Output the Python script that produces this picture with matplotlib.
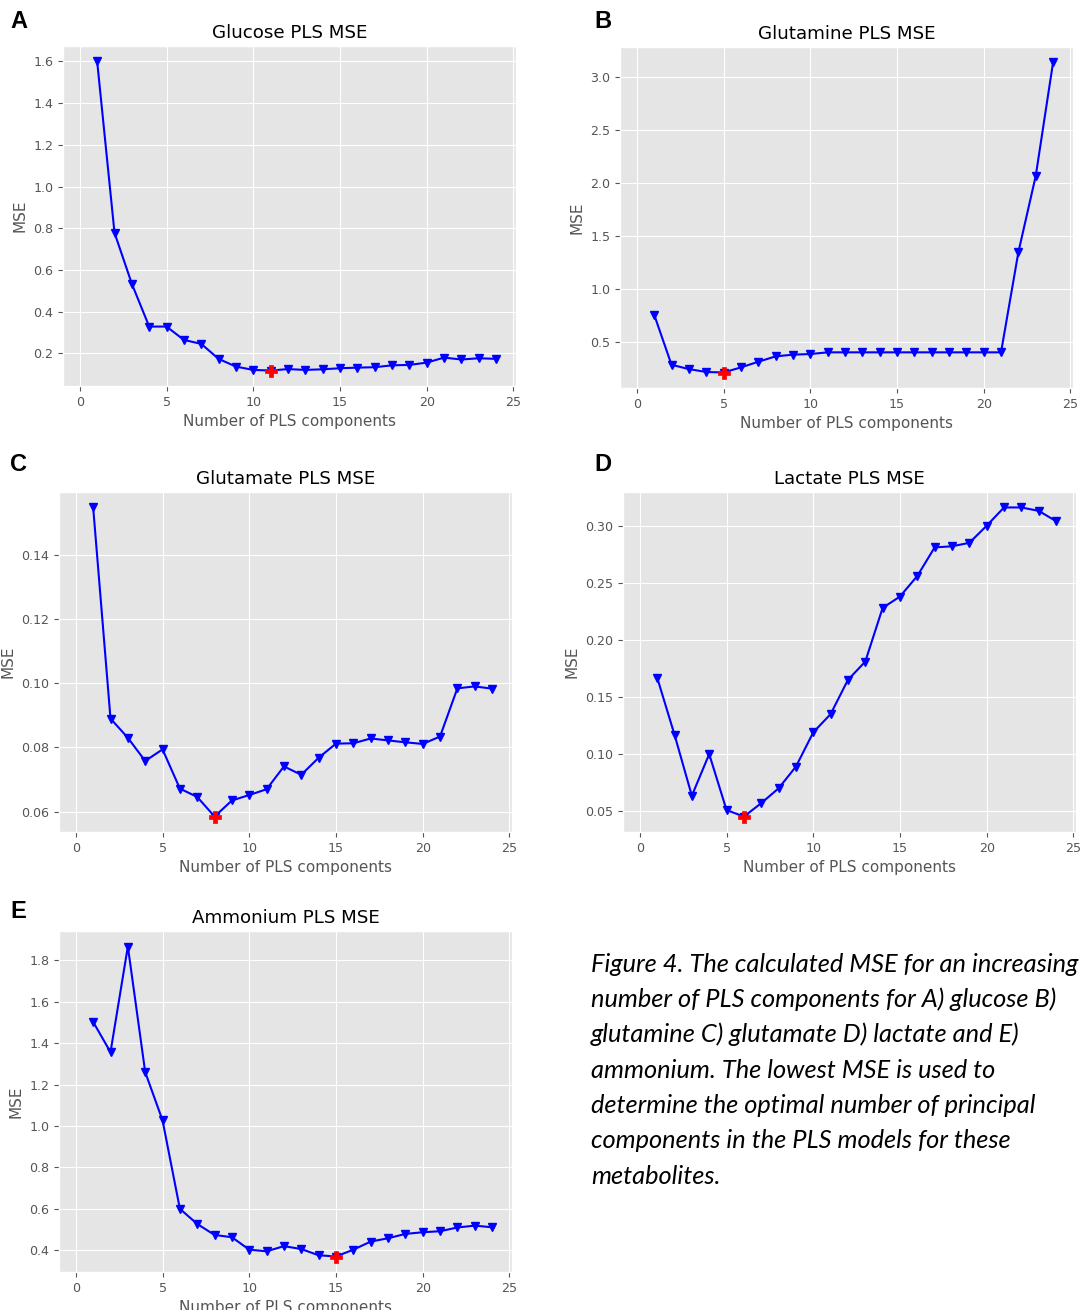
import matplotlib
matplotlib.use("Agg")
import matplotlib.pyplot as plt

# ---------------- data ----------------
components = list(range(1, 25))

glucose_mse = [1.600, 0.778, 0.533, 0.328, 0.328, 0.264, 0.245, 0.173, 0.136, 0.120,
               0.117, 0.124, 0.120, 0.123, 0.128, 0.131, 0.133, 0.142, 0.144, 0.155,
               0.179, 0.170, 0.176, 0.173]
glutamine_mse = [0.760, 0.288, 0.247, 0.220, 0.215, 0.263, 0.316, 0.367, 0.383, 0.389,
                 0.405, 0.405, 0.405, 0.405, 0.405, 0.405, 0.405, 0.405, 0.405, 0.405,
                 0.405, 1.348, 2.066, 3.136]
glutamate_mse = [0.1547, 0.0890, 0.0830, 0.0758, 0.0794, 0.0672, 0.0646, 0.0585, 0.0635, 0.0652,
                 0.0670, 0.0741, 0.0715, 0.0768, 0.0812, 0.0813, 0.0828, 0.0822, 0.0816, 0.0811,
                 0.0834, 0.0984, 0.0990, 0.0983]
lactate_mse = [0.167, 0.117, 0.0635, 0.100, 0.051, 0.0453, 0.057, 0.070, 0.089, 0.119,
               0.135, 0.165, 0.181, 0.228, 0.238, 0.256, 0.281, 0.282, 0.285, 0.300,
               0.316, 0.316, 0.313, 0.304]
ammonium_mse = [1.502, 1.356, 1.866, 1.260, 1.027, 0.600, 0.527, 0.474, 0.463, 0.403,
                0.395, 0.420, 0.406, 0.376, 0.370, 0.403, 0.442, 0.458, 0.479, 0.487,
                0.492, 0.510, 0.519, 0.511]

titles = ["Glucose PLS MSE", "Glutamine PLS MSE", "Glutamate PLS MSE",
          "Lactate PLS MSE", "Ammonium PLS MSE"]
panel_letters = ["A", "B", "C", "D", "E"]
xlabel_text = "Number of PLS components"
ylabel_text = "MSE"

caption_lines = [
    "Figure 4. The calculated MSE for an increasing",
    "number of PLS components for A) glucose B)",
    "glutamine C) glutamate D) lactate and E)",
    "ammonium. The lowest MSE is used to",
    "determine the optimal number of principal",
    "components in the PLS models for these",
    "metabolites.",
]

series = [glucose_mse, glutamine_mse, glutamate_mse, lactate_mse, ammonium_mse]

# ---------------- layout (pixel boxes: left, right, top, bottom) ----------------
W, H = 1082, 1310
boxes = [
    (63, 516, 46, 386),
    (620, 1073, 47, 388),
    (59, 512, 492, 832),
    (623, 1076, 492, 832),
    (59, 512, 931, 1272),
]
letter_pos = [(10, 22), (594, 22), (10, 464), (594, 464), (10, 911)]

plt.style.use("ggplot")
plt.rcParams["font.size"] = 9.12

fig = plt.figure(figsize=(W / 100, H / 100), dpi=100)
fig.patch.set_facecolor("white")

for i, (vals, title) in enumerate(zip(series, titles)):
    l, r, t, b = boxes[i]
    ax = fig.add_axes([l / W, 1 - b / H, (r - l) / W, (b - t) / H])
    ax.plot(components, vals, "b-", marker="v", markersize=6, linewidth=1.5)
    imin = min(range(len(vals)), key=lambda k: vals[k])
    ax.plot(components[imin], vals[imin], "P", color="red", markersize=9,
            markeredgewidth=0.5, markeredgecolor="red")
    ax.set_xlim(-0.97, 25.15)
    ax.set_xticks([0, 5, 10, 15, 20, 25])
    ax.set_title(title, color="black")
    ax.set_xlabel(xlabel_text)
    ax.set_ylabel(ylabel_text)

for letter, (x, y) in zip(panel_letters, letter_pos):
    fig.text(x / W, 1 - y / H, letter, family=["Liberation Sans", "DejaVu Sans"],
             fontweight="bold", fontsize=17, ha="left", va="center", color="black")

base_y = 971.7
line_step = 35.3
for k, line in enumerate(caption_lines):
    fig.text(591 / W, 1 - (base_y + k * line_step) / H, line,
             family=["Lato", "DejaVu Sans"], style="italic", fontsize=18.3,
             ha="left", va="baseline", color="black")

fig.savefig("out.png", dpi=100, facecolor="white")
